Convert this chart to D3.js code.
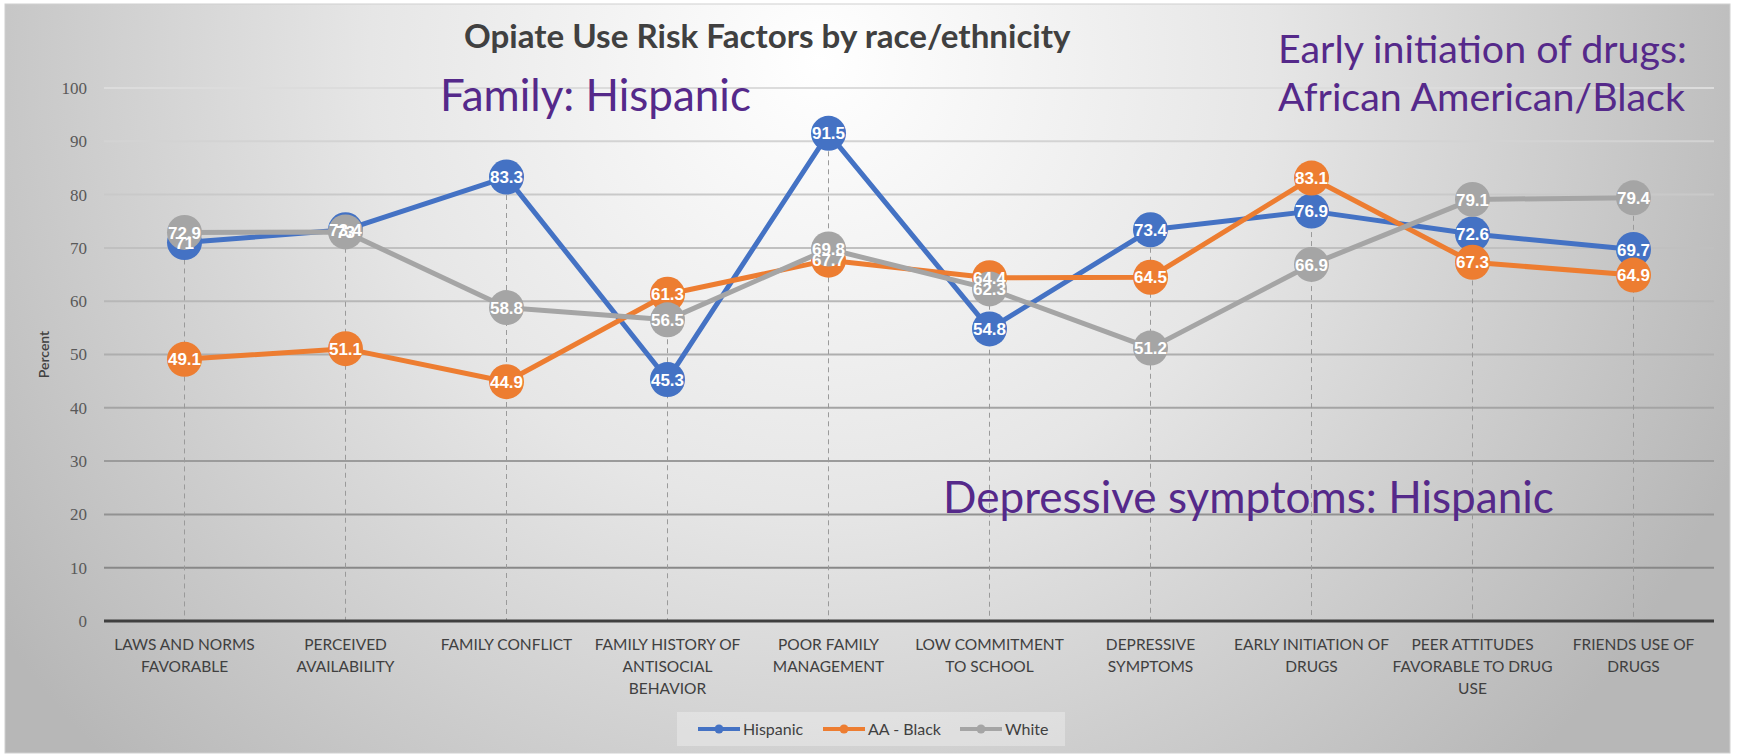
<!DOCTYPE html>
<html><head><meta charset="utf-8">
<script src="https://cdn.jsdelivr.net/npm/d3@7"></script>
<style>body{margin:0;background:#fff;} svg{display:block}</style>
</head><body>
<svg id="c" width="1740" height="755"></svg>
<script>
const categories = [
  ["LAWS AND NORMS","FAVORABLE"],
  ["PERCEIVED","AVAILABILITY"],
  ["FAMILY CONFLICT"],
  ["FAMILY HISTORY OF","ANTISOCIAL","BEHAVIOR"],
  ["POOR FAMILY","MANAGEMENT"],
  ["LOW COMMITMENT","TO SCHOOL"],
  ["DEPRESSIVE","SYMPTOMS"],
  ["EARLY INITIATION OF","DRUGS"],
  ["PEER ATTITUDES","FAVORABLE TO DRUG","USE"],
  ["FRIENDS USE OF","DRUGS"]
];
const hispanic = [71, 73.4, 83.3, 45.3, 91.5, 54.8, 73.4, 76.9, 72.6, 69.7];
const aaBlack  = [49.1, 51.1, 44.9, 61.3, 67.7, 64.4, 64.5, 83.1, 67.3, 64.9];
const white    = [72.9, 73, 58.8, 56.5, 69.8, 62.3, 51.2, 66.9, 79.1, 79.4];
const seriesNames = ["Hispanic", "AA - Black", "White"];
const seriesColors = ["#4472C4", "#ED7D31", "#A5A5A5"];
const yTicks = [0,10,20,30,40,50,60,70,80,90,100];
const titleText = "Opiate Use Risk Factors by race/ethnicity";
const yAxisTitle = "Percent";
const noteFamily = ["Family: Hispanic"];
const noteEarly = ["Early initiation of drugs:", "African American/Black"];
const noteDepressive = ["Depressive symptoms: Hispanic"];

const svg = d3.select("#c");
const plot = {left:104, right:1714, top:88, bottom:621};
const sansFont = "Lato, 'Open Sans', sans-serif";

// background
const defs = svg.append("defs");
const rg = defs.append("radialGradient").attr("id","bg")
  .attr("gradientUnits","userSpaceOnUse").attr("cx",820).attr("cy",60).attr("r",1000);
rg.append("stop").attr("offset","0").attr("stop-color","#ffffff");
rg.append("stop").attr("offset","0.45").attr("stop-color","#e6e6e6");
rg.append("stop").attr("offset","1").attr("stop-color","#b7b7b7");
svg.append("rect").attr("x",5).attr("y",4).attr("width",1725).attr("height",749)
  .attr("fill","url(#bg)").attr("stroke","#d0d0d0").attr("stroke-width",1);

const data = [hispanic, aaBlack, white];
const x = d3.scaleBand().domain(d3.range(categories.length)).range([plot.left, plot.right]);
const cx = i => x(i) + x.bandwidth()/2;
const y = d3.scaleLinear().domain([0,100]).range([plot.bottom, plot.top]);

// gridlines
const gridColor = d3.scaleLinear().domain([0,100]).range(["#7f7f7f","#dcdcdc"]);
svg.append("g").selectAll("line").data(yTicks.filter(t=>t>0)).join("line")
  .attr("x1",plot.left).attr("x2",plot.right)
  .attr("y1",d=>y(d)).attr("y2",d=>y(d))
  .attr("stroke",d=>gridColor(d)).attr("stroke-width",2);

// y axis labels
const yAxis = d3.axisLeft(y).tickValues(yTicks).tickSize(0).tickPadding(0);
const yg = svg.append("g").attr("transform",`translate(${plot.left-17},0)`).call(yAxis);
yg.select(".domain").remove();
yg.selectAll("text").attr("font-family","'Liberation Serif', 'DejaVu Serif', serif")
  .attr("font-size",17).attr("fill","#595959");

svg.append("text").attr("transform",`translate(49,${(plot.top+plot.bottom)/2}) rotate(-90)`)
  .attr("text-anchor","middle").attr("font-family",sansFont).attr("font-weight",600)
  .attr("font-size",14).attr("fill","#404040").text(yAxisTitle);

// drop lines
const maxVals = categories.map((c,i)=>d3.max(data, s=>s[i]));
svg.append("g").selectAll("line").data(maxVals).join("line")
  .attr("x1",(d,i)=>cx(i)).attr("x2",(d,i)=>cx(i))
  .attr("y1",d=>y(d)).attr("y2",plot.bottom)
  .attr("stroke","#9a9a9a").attr("stroke-width",1).attr("stroke-dasharray","5,4");

// zero axis
svg.append("line").attr("x1",plot.left).attr("x2",plot.right)
  .attr("y1",y(0)).attr("y2",y(0)).attr("stroke","#3f3f3f").attr("stroke-width",3);

// x labels
const xl = svg.append("g").selectAll("text").data(categories).join("text")
  .attr("text-anchor","middle").attr("font-family",sansFont).attr("font-size",15.5)
  .attr("fill","#404040");
xl.each(function(lines,i){
  const t = d3.select(this);
  lines.forEach((ln,k)=>{
    t.append("tspan").attr("x",cx(i)).attr("y",650+k*22).text(ln);
  });
});

// series
const line = d3.line().x((d,i)=>cx(i)).y(d=>y(d));
data.forEach((s,si)=>{
  const g = svg.append("g");
  g.append("path").datum(s).attr("d",line).attr("fill","none")
    .attr("stroke",seriesColors[si]).attr("stroke-width",5).attr("stroke-linejoin","round");
  g.selectAll("circle").data(s).join("circle")
    .attr("cx",(d,i)=>cx(i)).attr("cy",d=>y(d)).attr("r",17.5)
    .attr("fill",seriesColors[si]);
});
data.forEach((s,si)=>{
  svg.append("g").selectAll("text").data(s).join("text")
    .attr("x",(d,i)=>cx(i)).attr("y",d=>y(d)).attr("dy","0.36em")
    .attr("text-anchor","middle").attr("font-family","'Liberation Sans Narrow', 'Liberation Sans', Arial, sans-serif")
    .attr("font-weight","bold").attr("font-size",17).attr("fill","#ffffff")
    .text(d=>d);
});

function fit(sel, w){
  const cur = sel.node().getComputedTextLength();
  const fs = parseFloat(sel.attr("font-size"));
  const nfs = fs*w/cur;
  sel.attr("font-size", nfs);
  return nfs;
}
const title = svg.append("text").attr("x",464).attr("y",48)
  .attr("font-family",sansFont).attr("font-weight","bold").attr("font-size",26)
  .attr("fill","#404040").text(titleText);
fit(title, 607);

// annotations
const purple = "#55298a";
const n1 = svg.append("text").attr("x",440).attr("y",111).attr("font-family",sansFont)
  .attr("font-size",40).attr("fill",purple).text(noteFamily[0]);
fit(n1, 311);
const n2a = svg.append("text").attr("x",1278).attr("y",63).attr("font-family",sansFont)
  .attr("font-size",40).attr("fill",purple).text(noteEarly[0]);
const fs2 = fit(n2a, 409);
svg.append("text").attr("x",1278).attr("y",111).attr("font-family",sansFont)
  .attr("font-size",fs2).attr("fill",purple).text(noteEarly[1]);
const n3 = svg.append("text").attr("x",943).attr("y",513).attr("font-family",sansFont)
  .attr("font-size",40).attr("fill",purple).text(noteDepressive[0]);
fit(n3, 611);

// legend
const lg = svg.append("g");
lg.append("rect").attr("x",677).attr("y",712).attr("width",388).attr("height",34)
  .attr("fill","#ffffff").attr("fill-opacity",0.3);
const legX = [698, 823, 960];
seriesNames.forEach((nm,i)=>{
  const g = lg.append("g").attr("transform",`translate(${legX[i]},729)`);
  g.append("line").attr("x1",0).attr("x2",42).attr("stroke",seriesColors[i]).attr("stroke-width",4);
  g.append("circle").attr("cx",21).attr("r",4.5).attr("fill",seriesColors[i]);
  g.append("text").attr("x",45).attr("y",0).attr("dy","0.35em").attr("font-family",sansFont)
    .attr("font-size",16).attr("fill","#404040").text(nm);
});
</script>
</body></html>
